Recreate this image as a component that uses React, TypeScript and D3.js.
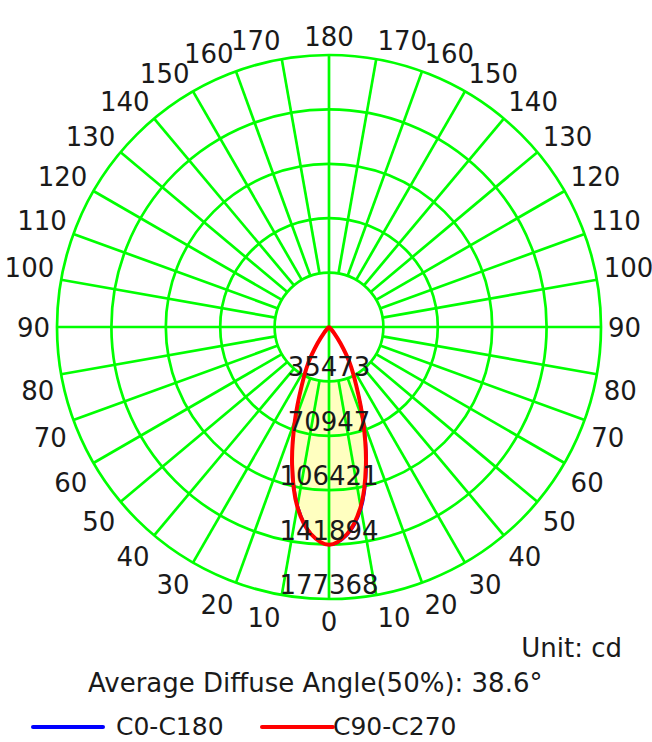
import React from 'react';
import * as d3 from 'd3';

// vertical angles (gamma), degrees from nadir
const gammaAngles = [0, 5, 10, 15, 20, 25, 30, 35, 40, 45, 50, 55, 60, 65, 70, 75, 80, 85, 90];
// intensities in cd
const c90c270 = [142000, 135500, 119000, 93000, 65000, 42000, 27000, 13000, 5000, 1500, 500, 200, 100, 50, 20, 10, 0, 0, 0];
const c0 = [142300, 136500, 121000, 95500, 67000, 43000, 27500, 13300, 5100, 1500, 500, 200, 100, 50, 20, 10, 0, 0, 0];
const c180 = [142300, 135000, 117500, 91500, 64000, 41300, 26600, 12800, 4900, 1500, 500, 200, 100, 50, 20, 10, 0, 0, 0];

const ringTicks = [35473, 70947, 106421, 141894, 177368];
const angleTicks = [0, 10, 20, 30, 40, 50, 60, 70, 80, 90, 100, 110, 120, 130, 140, 150, 160, 170, 180];

const W = 652, H = 742;
const cx = 329, cy = 327, R = 272;
const FONT = '"DejaVu Sans", Verdana, sans-serif';
const GREEN = '#00ff00';
const TXT = '#1a1a1a';

const toRad = (d: number) => (d * Math.PI) / 180;

function App() {
  const rScale = d3.scaleLinear().domain([0, d3.max(ringTicks) as number]).range([0, R]);
  const r1 = rScale(ringTicks[0]);

  const radial = d3
    .lineRadial<[number, number]>()
    .angle((d) => d[0])
    .radius((d) => d[1])
    .curve(d3.curveCatmullRom);

  // left half (one C-plane) then right half (opposite C-plane)
  const lobe = (rightVals: number[], leftVals: number[]) => {
    const pts: [number, number][] = [];
    for (let i = gammaAngles.length - 1; i >= 1; i--) pts.push([Math.PI + toRad(gammaAngles[i]), rScale(leftVals[i])]);
    for (let i = 0; i < gammaAngles.length; i++) pts.push([Math.PI - toRad(gammaAngles[i]), rScale(rightVals[i])]);
    return radial(pts) as string;
  };

  const redPath = lobe(c90c270, c90c270);
  const bluePath = lobe(c0, c180);

  const spokes = d3.range(0, 360, 10).filter((a) => a % 90 !== 0);

  const labels: { v: number; t: number }[] = [];
  angleTicks.forEach((v) => {
    labels.push({ v, t: v });
    if (v !== 0 && v !== 180) labels.push({ v, t: -v });
  });

  const pad = R + 7;

  return (
    <svg width={W} height={H} style={{ position: 'absolute', left: 0, top: 0 }} fontFamily={FONT}>
      <rect width={W} height={H} fill="#ffffff" />
      <g transform={`translate(${cx},${cy})`}>
        <path d={redPath} fill="#ffffc0" stroke="none" />
        <circle r={r1} fill="#ffffff" />
        {ringTicks.map((t) => (
          <circle key={t} r={rScale(t)} fill="none" stroke={GREEN} strokeWidth={2.7} />
        ))}
        {spokes.map((a) => (
          <line
            key={a}
            x1={r1 * Math.sin(toRad(a))}
            y1={r1 * Math.cos(toRad(a))}
            x2={R * Math.sin(toRad(a))}
            y2={R * Math.cos(toRad(a))}
            stroke={GREEN}
            strokeWidth={2.7}
          />
        ))}
        <line x1={-R} y1={0} x2={R} y2={0} stroke={GREEN} strokeWidth={2.7} />
        <line x1={0} y1={-R} x2={0} y2={R} stroke={GREEN} strokeWidth={2.7} />
        <path d={bluePath} fill="none" stroke="#0000ff" strokeWidth={2} />
        <path d={redPath} fill="none" stroke="#ff0000" strokeWidth={4} />
        {ringTicks.map((t) => (
          <text key={t} x={0} y={rScale(t) - 5} textAnchor="middle" fontSize={26} fill={TXT}>
            {t}
          </text>
        ))}
        {labels.map(({ v, t }) => {
          const ux = Math.sin(toRad(t));
          const uy = Math.cos(toRad(t));
          const px = pad * ux;
          const py = pad * uy;
          const anchor = ux > 0.01 ? 'start' : ux < -0.01 ? 'end' : 'middle';
          const y = uy < -0.01 ? py - 2 : uy > 0.01 ? py + 25 : py + 9.5;
          return (
            <text key={`${v}_${t}`} x={px} y={y} textAnchor={anchor} fontSize={26} fill={TXT}>
              {v}
            </text>
          );
        })}
      </g>
      <text x={622} y={657} textAnchor="end" fontSize={26} fill={TXT}>
        Unit: cd
      </text>
      <text x={88} y={692} fontSize={26} fill={TXT}>
        Average Diffuse Angle(50%): 38.6°
      </text>
      <line x1={33} y1={727} x2={103} y2={727} stroke="#0000ff" strokeWidth={4} strokeLinecap="round" />
      <text x={116} y={735} fontSize={25} fill={TXT}>
        C0-C180
      </text>
      <line x1={262} y1={727} x2={333} y2={727} stroke="#ff0000" strokeWidth={4} strokeLinecap="round" />
      <text x={333} y={735} fontSize={25} fill={TXT}>
        C90-C270
      </text>
    </svg>
  );
}

export default App;
